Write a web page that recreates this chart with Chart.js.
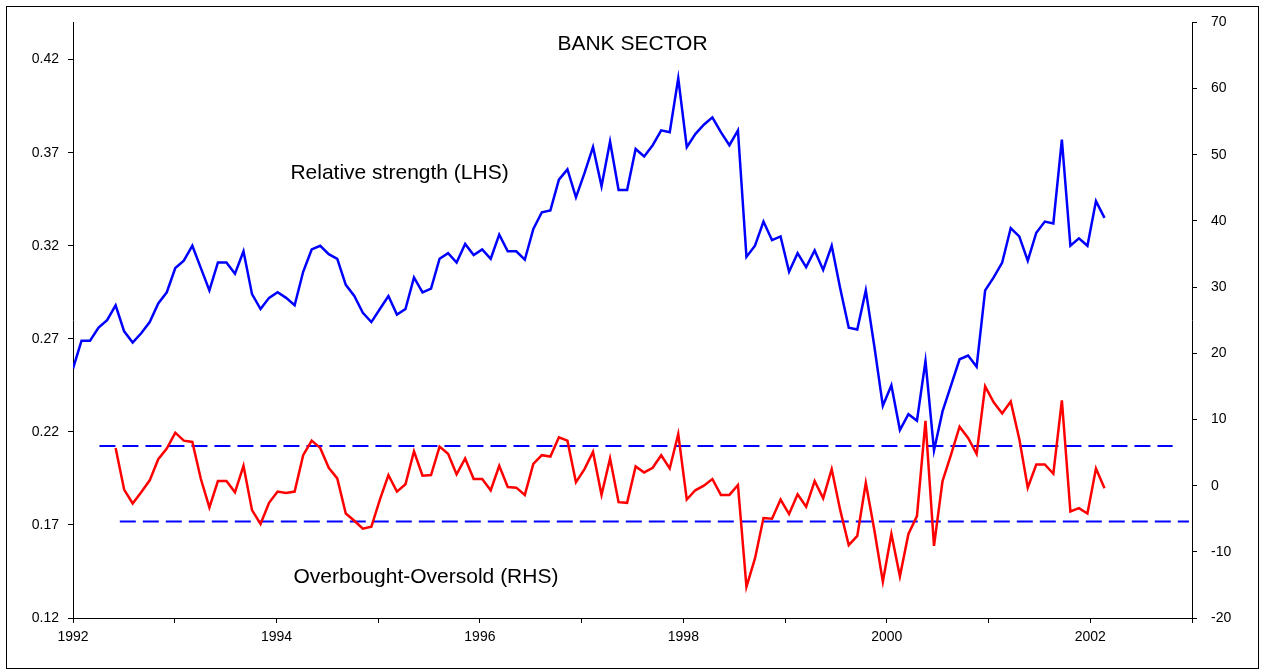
<!DOCTYPE html>
<html>
<head>
<meta charset="utf-8">
<title>Bank sector</title>
<script src="https://cdn.jsdelivr.net/npm/chart.js@4.4.1/dist/chart.umd.min.js"></script>
<style>
  html, body { margin: 0; padding: 0; background: #fff; }
  #frame { position: absolute; left: 6px; top: 6px; width: 1251px; height: 661px; border: 1px solid #000; }
  #chart { position: absolute; left: 0; top: 0; }
</style>
</head>
<body>
<div id="frame"></div>
<canvas id="chart" width="1265" height="672"></canvas>
<script>
// monthly readings, Jan 1992 .. Feb 2002
const relStrength = [
  0.254, 0.269, 0.269, 0.276, 0.280, 0.288, 0.274, 0.268, 0.273, 0.279, 0.289, 0.295,
  0.308, 0.312, 0.320, 0.308, 0.296, 0.311, 0.311, 0.305, 0.317, 0.294, 0.286, 0.292,
  0.295, 0.292, 0.288, 0.306, 0.318, 0.320, 0.3155, 0.313, 0.299, 0.293, 0.284, 0.279,
  0.286, 0.293, 0.283, 0.286, 0.303, 0.295, 0.297, 0.313, 0.316, 0.311, 0.321, 0.315,
  0.318, 0.313, 0.326, 0.317, 0.317, 0.3125, 0.329, 0.338, 0.339, 0.3555, 0.361, 0.346,
  0.359, 0.373, 0.352, 0.376, 0.350, 0.350, 0.372, 0.368, 0.374, 0.382, 0.381, 0.410,
  0.373, 0.380, 0.385, 0.389, 0.381, 0.374, 0.382, 0.314, 0.320, 0.333, 0.323, 0.325,
  0.306, 0.316, 0.3085, 0.3175, 0.307, 0.320, 0.297, 0.276, 0.275, 0.296, 0.266, 0.234,
  0.245, 0.221, 0.2295, 0.226, 0.258, 0.210, 0.231, 0.245, 0.259, 0.261, 0.255, 0.296,
  0.303, 0.311, 0.3295, 0.325, 0.312, 0.327, 0.333, 0.332, 0.377, 0.320, 0.324, 0.320,
  0.344, 0.335
];

// overbought-oversold starts at the 6th month (Jun 1992)
const redStart = 5;
const obos = [
  5.7, -0.6, -2.7, -1.0, 0.8, 4.0, 5.6,
  8.0, 6.8, 6.6, 1.0, -3.3, 0.7, 0.7, -1.0, 3.0, -3.7, -5.8, -2.6,
  -0.9, -1.1, -0.9, 4.6, 6.8, 5.7, 2.7, 1.1, -4.2, -5.3, -6.5, -6.2,
  -2.1, 1.6, -0.9, 0.2, 5.2, 1.5, 1.6, 5.9, 4.8, 1.7, 4.1, 1.0,
  1.0, -0.7, 3.0, -0.2, -0.3, -1.4, 3.3, 4.6, 4.4, 7.3, 6.8, 0.5,
  2.5, 5.1, -1.4, 4.1, -2.5, -2.6, 2.9, 2.0, 2.7, 4.6, 2.6, 7.8,
  -2.1, -0.7, 0.0, 1.0, -1.4, -1.4, 0.1, -15.3, -11.0, -4.9, -5.0, -2.1,
  -4.3, -1.3, -3.2, 0.7, -1.9, 2.5, -3.7, -9.0, -7.6, 0.4, -6.7, -14.5,
  -7.3, -13.7, -7.3, -4.6, 9.8, -9.1, 0.7, 4.7, 8.9, 7.2, 4.8, 15.0,
  12.6, 10.9, 12.7, 7.1, -0.3, 3.2, 3.2, 1.8, 12.9, -3.9, -3.4, -4.2,
  2.6, -0.4
];

// threshold bands (RHS units) and the years they span
const upperBand = 6;
const upperSpan = [1992.26, 2002.81];
const lowerBand = -5.4;
const lowerSpan = [1992.46, 2002.97];

const leftTicks = [0.12, 0.17, 0.22, 0.27, 0.32, 0.37, 0.42];
const startYear = 1992;
const pointStep = 0.0838; // years per plotted point

const notes = [
  { text: "BANK SECTOR", year: 1997.5, value: 66.7 },
  { text: "Relative strength (LHS)", year: 1995.21, value: 47.2 },
  { text: "Overbought-Oversold (RHS)", year: 1995.47, value: -13.8 }
];

const FONT = '"Liberation Sans", Arial, sans-serif';

const notesPlugin = {
  id: "notes",
  afterDatasetsDraw(chart) {
    const ctx = chart.ctx;
    const xs = chart.scales.x;
    const ys = chart.scales.yR;
    ctx.save();
    ctx.font = "21px " + FONT;
    ctx.fillStyle = "#000";
    ctx.textAlign = "center";
    ctx.textBaseline = "middle";
    notes.forEach(n => {
      ctx.fillText(n.text, xs.getPixelForValue(n.year), ys.getPixelForValue(n.value));
    });
    ctx.restore();
  }
};

const bluePoints = relStrength.map((v, i) => ({ x: startYear + i * pointStep, y: v }));
const redPoints = obos.map((v, i) => ({ x: startYear + (i + redStart) * pointStep, y: v }));

new Chart(document.getElementById("chart"), {
  type: "line",
  data: {
    datasets: [
      {
        label: "Relative strength (LHS)",
        data: bluePoints,
        yAxisID: "yL",
        borderColor: "#0000ff",
        borderWidth: 2.5,
        pointRadius: 0,
        tension: 0
      },
      {
        label: "Overbought-Oversold (RHS)",
        data: redPoints,
        yAxisID: "yR",
        borderColor: "#ff0000",
        borderWidth: 2.5,
        pointRadius: 0,
        tension: 0
      },
      {
        label: "upper",
        data: upperSpan.map(x => ({ x: x, y: upperBand })),
        yAxisID: "yR",
        borderColor: "#0000ff",
        borderWidth: 2,
        borderDash: [16, 7],
        pointRadius: 0
      },
      {
        label: "lower",
        data: lowerSpan.map(x => ({ x: x, y: lowerBand })),
        yAxisID: "yR",
        borderColor: "#0000ff",
        borderWidth: 2,
        borderDash: [16, 7],
        pointRadius: 0
      }
    ]
  },
  options: {
    responsive: false,
    animation: false,
    devicePixelRatio: 1,
    layout: { padding: { top: 22, left: 0, right: 0, bottom: 0 } },
    plugins: {
      legend: { display: false },
      tooltip: { enabled: false }
    },
    scales: {
      x: {
        type: "linear",
        min: 1992,
        max: 2003,
        afterFit: s => { s.height = 54; },
        ticks: {
          stepSize: 1,
          autoSkip: false,
          maxRotation: 0,
          padding: 6,
          color: "#000",
          font: { family: FONT, size: 14 },
          callback: v => (v % 2 === 0 ? String(v) : "")
        },
        grid: { drawOnChartArea: false, drawTicks: true, tickLength: 5, color: "#000" },
        border: { color: "#000", width: 1 }
      },
      yL: {
        position: "left",
        min: 0.12,
        max: 0.44,
        afterFit: s => { s.width = 73; },
        afterBuildTicks: s => { s.ticks = leftTicks.map(v => ({ value: v })); },
        ticks: {
          padding: 9,
          color: "#000",
          font: { family: FONT, size: 14 },
          callback: v => v.toFixed(2)
        },
        grid: { drawOnChartArea: false, drawTicks: true, tickLength: 5, color: "#000" },
        border: { color: "#000", width: 1 }
      },
      yR: {
        position: "right",
        min: -20,
        max: 70,
        afterFit: s => { s.width = 73; },
        ticks: {
          stepSize: 10,
          padding: 14,
          color: "#000",
          font: { family: FONT, size: 14 }
        },
        grid: { drawOnChartArea: false, drawTicks: true, tickLength: 5, color: "#000" },
        border: { color: "#000", width: 1 }
      }
    }
  },
  plugins: [notesPlugin]
});
</script>
</body>
</html>
